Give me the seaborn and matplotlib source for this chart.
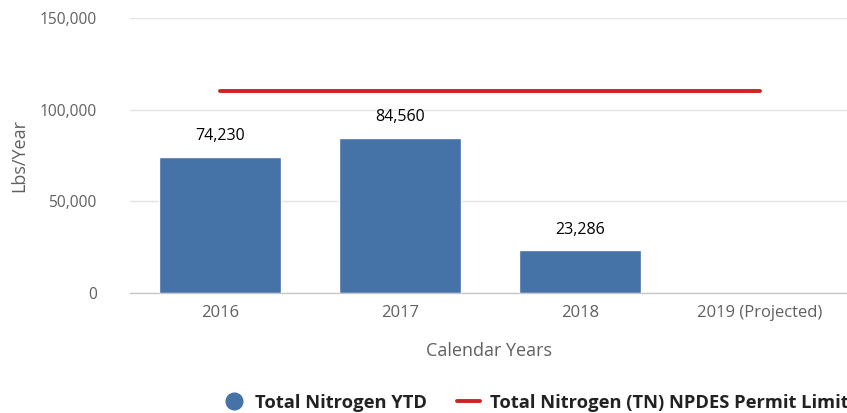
import numpy as np
import pandas as pd
import seaborn as sns
import matplotlib.pyplot as plt
from matplotlib.ticker import FuncFormatter, FixedLocator
from matplotlib.lines import Line2D

years = ["2016", "2017", "2018", "2019 (Projected)"]
nitrogen_ytd = [74230, 84560, 23286, np.nan]
permit_limit = [110200, 110200, 110200, 110200]
bar_labels = ["74,230", "84,560", "23,286", ""]

df = pd.DataFrame({"year": years, "lbs": nitrogen_ytd})

sns.set_theme(style="white")
plt.rcParams["font.family"] = ["Open Sans", "DejaVu Sans"]

fig = plt.figure(figsize=(8.47, 4.13), dpi=100)
ax = fig.add_axes([0.1535, 0.2906, 0.8465, 0.6658])

bar_color = "#4572A7"
sns.barplot(data=df, x="year", y="lbs", order=years, color=bar_color,
            width=0.675, saturation=1, ax=ax, zorder=3)

ax.plot(range(len(years)), permit_limit, color="#D42020", lw=2.8, zorder=4)

for i, (v, lab) in enumerate(zip(nitrogen_ytd, bar_labels)):
    if lab:
        ax.annotate(lab, (i, v), xytext=(0, 9), textcoords="offset points",
                    ha="center", va="bottom", fontsize=11.5, color="#000000")

ax.set_ylim(0, 150000)
ax.set_xlim(-0.5, 3.483)
ax.set_yticks([0, 50000, 100000, 150000])
ax.yaxis.set_major_formatter(FuncFormatter(lambda v, p: f"{int(v):,}"))
ax.grid(axis="y", color="#e3e3e3", lw=1, zorder=0)
ax.set_axisbelow(True)

for s in ["top", "right", "left"]:
    ax.spines[s].set_visible(False)
ax.spines["bottom"].set_color("#c8c8c8")
ax.spines["bottom"].set_linewidth(1)

ax.tick_params(axis="y", length=0, pad=24, labelsize=11.2, labelcolor="#606060")
ax.tick_params(axis="x", which="major", length=0, pad=9, labelsize=12, labelcolor="#606060")
ax.xaxis.set_minor_locator(FixedLocator([-0.5, 0.5, 1.5, 2.5]))
ax.tick_params(axis="x", which="minor", length=9, width=1, color="#c8c8c8")

ax.set_xlabel("Calendar Years", fontsize=13, color="#606060", labelpad=15)
ax.set_ylabel("Lbs/Year", fontsize=13, color="#606060", labelpad=8)

handles = [
    Line2D([], [], marker="o", ls="none", markersize=12, color=bar_color),
    Line2D([], [], color="#D42020", lw=2.8),
]
fig.legend(handles, ["Total Nitrogen YTD", "Total Nitrogen (TN) NPDES Permit Limit"],
           loc="center left", bbox_to_anchor=(0.243, 0.025), ncol=2, frameon=False,
           prop={"size": 13.2, "weight": "bold"}, handlelength=1.3, handletextpad=0.5,
           columnspacing=1.6, labelcolor="#222222")

fig.savefig("out.png", dpi=100)
